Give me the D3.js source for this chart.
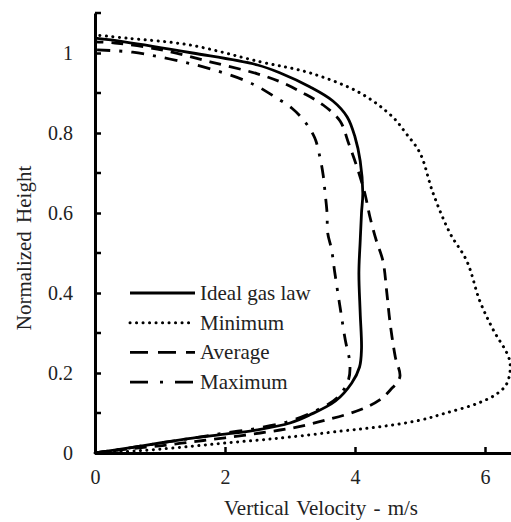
<!DOCTYPE html>
<html>
<head>
<meta charset="utf-8">
<script src="https://cdn.jsdelivr.net/npm/d3@7"></script>
<style>
  body { margin: 0; background: #fff; }
</style>
</head>
<body>
<svg id="chart" width="511" height="522"></svg>
<script>
// series: velocity (m/s) and normalized height, ordered from bottom to top of each profile
const idealVel = [0, 0.5, 1.0, 1.5, 2.0, 2.5, 3.0, 3.3, 3.7, 3.95, 4.07, 4.1, 4.08, 4.06, 4.08, 4.1, 4.12, 4.08, 4.0, 3.88, 3.66, 3.31, 2.85, 2.5, 1.5, 0.45, 0];
const idealH = [0, 0.012, 0.025, 0.037, 0.047, 0.058, 0.075, 0.095, 0.13, 0.175, 0.215, 0.26, 0.35, 0.45, 0.53, 0.6, 0.65, 0.73, 0.79, 0.84, 0.88, 0.915, 0.95, 0.97, 1.0, 1.028, 1.037];

const minVel = [0, 0.5, 0.95, 1.5, 2.0, 2.5, 3.0, 3.8, 4.4, 5.0, 5.4, 5.9, 6.2, 6.34, 6.38, 6.12, 5.92, 5.72, 5.46, 5.2, 5.0, 4.78, 4.58, 4.08, 3.31, 2.54, 1.46, 0.5, 0];
const minH = [0, 0.004, 0.009, 0.017, 0.025, 0.032, 0.04, 0.055, 0.066, 0.082, 0.1, 0.125, 0.15, 0.175, 0.23, 0.31, 0.38, 0.48, 0.55, 0.65, 0.75, 0.8, 0.84, 0.9, 0.95, 0.978, 1.02, 1.037, 1.045];

const avgVel = [0, 0.5, 1.0, 1.5, 2.0, 2.54, 3.05, 3.57, 4.08, 4.38, 4.54, 4.69, 4.62, 4.54, 4.49, 4.43, 4.33, 4.23, 4.15, 4.03, 3.9, 3.77, 3.51, 3.2, 2.85, 2.5, 1.77, 1.05, 0.31, 0];
const avgH = [0, 0.01, 0.018, 0.028, 0.038, 0.05, 0.063, 0.083, 0.108, 0.133, 0.157, 0.19, 0.24, 0.325, 0.4, 0.48, 0.53, 0.59, 0.65, 0.715, 0.775, 0.83, 0.87, 0.9, 0.928, 0.948, 0.978, 1.007, 1.025, 1.028];

const maxVel = [0, 0.5, 1.0, 1.5, 2.0, 2.5, 3.0, 3.51, 3.74, 3.9, 3.92, 3.85, 3.77, 3.69, 3.64, 3.58, 3.57, 3.54, 3.51, 3.46, 3.38, 3.23, 3.03, 2.77, 2.54, 2.28, 1.72, 1.15, 0.58, 0];
const maxH = [0, 0.012, 0.025, 0.037, 0.05, 0.062, 0.08, 0.115, 0.14, 0.183, 0.225, 0.283, 0.365, 0.45, 0.508, 0.55, 0.6, 0.65, 0.695, 0.74, 0.788, 0.828, 0.862, 0.89, 0.913, 0.933, 0.963, 0.985, 1.002, 1.008];

const seriesNames = ['Ideal gas law', 'Minimum', 'Average', 'Maximum'];
const xMajor = [0, 2, 4, 6];
const yMajor = [0, 0.2, 0.4, 0.6, 0.8, 1];
const yMinor = [0.1, 0.3, 0.5, 0.7, 0.9, 1.1];

const FONT = 'Liberation Serif, DejaVu Serif, serif';
const margin = { left: 95, top: 13, right: 0, bottom: 69 };
const W = 511, H = 522;

const svg = d3.select('#chart').style('font-family', FONT);
const x = d3.scaleLinear().domain([0, 6.4]).range([margin.left, W - margin.right]);
const y = d3.scaleLinear().domain([0, 1.1]).range([H - margin.bottom, margin.top]);

// line styles (plot, legend)
const styles = [
  { dash: null, legendDash: null, cap: 'butt' },
  { dash: '0.1,6.4', legendDash: '0.1,6.4', cap: 'round' },
  { dash: '12,8', legendDash: '18,10', cap: 'butt' },
  { dash: '13,9,3,9', legendDash: '18,12,3,12', cap: 'butt' }
];

const data = [
  d3.zip(idealVel, idealH),
  d3.zip(minVel, minH),
  d3.zip(avgVel, avgH),
  d3.zip(maxVel, maxH)
];

const line = d3.line()
  .x(d => x(d[0]))
  .y(d => y(d[1]))
  .curve(d3.curveCatmullRom.alpha(0.5));

svg.append('g')
  .selectAll('path')
  .data(data)
  .join('path')
  .attr('d', line)
  .attr('fill', 'none')
  .attr('stroke', '#000')
  .attr('stroke-width', (d, i) => i === 1 ? 3 : 2.8)
  .attr('stroke-linecap', (d, i) => styles[i].cap)
  .attr('stroke-dasharray', (d, i) => styles[i].dash);

// y axis, ticks pointing inward
const yAxis = svg.append('g')
  .attr('transform', `translate(${margin.left},0)`)
  .call(d3.axisLeft(y).tickValues(yMajor).tickSize(-6).tickSizeOuter(0).tickPadding(22)
    .tickFormat(d3.format('~g')));
yAxis.append('g')
  .selectAll('line')
  .data(yMinor)
  .join('line')
  .attr('x1', 0).attr('x2', 6)
  .attr('y1', d => y(d)).attr('y2', d => y(d))
  .attr('stroke', '#000').attr('stroke-width', 2.5);

const xAxis = svg.append('g')
  .attr('transform', `translate(0,${y(0)})`)
  .call(d3.axisBottom(x).tickValues(xMajor).tickSize(-6).tickSizeOuter(0).tickPadding(17)
    .tickFormat(d3.format('d')));

[yAxis, xAxis].forEach(g => {
  g.attr('font-family', null).attr('font-size', 20);
  g.select('.domain').attr('stroke', '#000').attr('stroke-width', 3);
  g.selectAll('.tick line').attr('stroke', '#000').attr('stroke-width', 2.5);
  g.selectAll('.tick text').attr('fill', '#222');
});

// axis titles
svg.append('text')
  .attr('x', 321).attr('y', 515)
  .attr('text-anchor', 'middle')
  .attr('font-size', 21)
  .attr('fill', '#222')
  .attr('word-spacing', 2)
  .text('Vertical Velocity - m/s');

svg.append('text')
  .attr('transform', 'translate(31,248) rotate(-90)')
  .attr('text-anchor', 'middle')
  .attr('font-size', 21)
  .attr('fill', '#222')
  .attr('word-spacing', 3)
  .text('Normalized Height');

// legend
const legend = svg.append('g').attr('transform', 'translate(130,293)');
const rows = legend.selectAll('g')
  .data(seriesNames)
  .join('g')
  .attr('transform', (d, i) => `translate(0,${i * 29.7})`);
rows.append('line')
  .attr('x1', 0).attr('x2', 65)
  .attr('stroke', '#000')
  .attr('stroke-width', (d, i) => i === 1 ? 3 : 2.8)
  .attr('stroke-linecap', (d, i) => styles[i].cap)
  .attr('stroke-dasharray', (d, i) => styles[i].legendDash);
rows.append('text')
  .attr('x', 70).attr('dy', '0.33em')
  .attr('font-size', 21)
  .attr('fill', '#222')
  .text(d => d);
</script>
</body>
</html>
